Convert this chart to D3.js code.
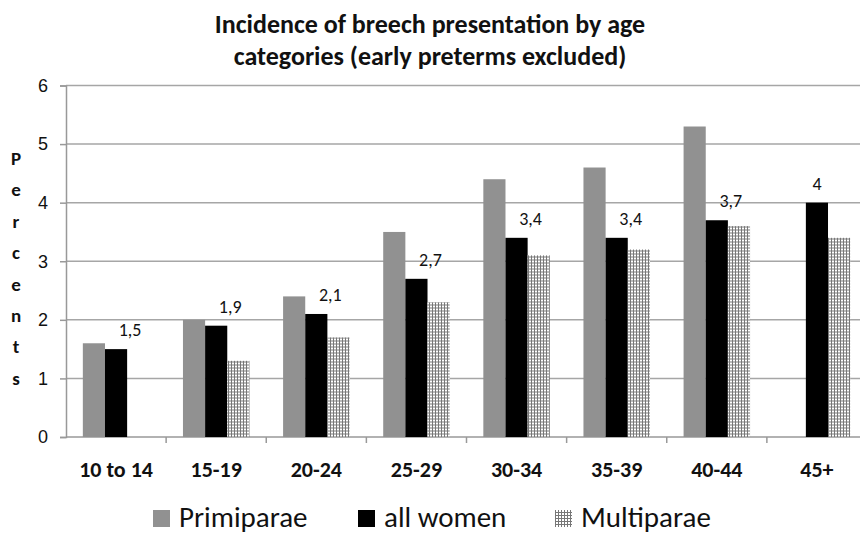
<!DOCTYPE html>
<html>
<head>
<meta charset="utf-8">
<script src="https://cdn.jsdelivr.net/npm/d3@7"></script>
<style>
  body { margin: 0; background: #fff; }
  svg { display: block; font-family: Carlito, Calibri, Lato, "Liberation Sans", sans-serif; }
</style>
</head>
<body>
<div id="chart"></div>
<script>
// data
var ageGroups = ['10 to 14', '15-19', '20-24', '25-29', '30-34', '35-39', '40-44', '45+'];
var primiparae = [1.6, 2.0, 2.4, 3.5, 4.4, 4.6, 5.3, null];
var allWomen = [1.5, 1.9, 2.1, 2.7, 3.4, 3.4, 3.7, 4.0];
var multiparae = [null, 1.3, 1.7, 2.3, 3.1, 3.2, 3.6, 3.4];
var seriesNames = ['Primiparae', 'all women', 'Multiparae'];
var yTicks = [0, 1, 2, 3, 4, 5, 6];
var titleLines = ['Incidence of breech presentation by age', 'categories (early preterms excluded)'];

var svgWidth = 860;
var svgHeight = 535;
var margin = { top: 85.5, right: -7, bottom: 98, left: 66 };
var chartWidth = svgWidth - margin.left - margin.right;
var chartHeight = svgHeight - margin.top - margin.bottom;

var svg = d3.select('#chart')
  .append('svg')
  .attr('width', svgWidth)
  .attr('height', svgHeight);

// fine grid fill for multiparae
var defs = svg.append('defs');
var pat = defs.append('pattern')
  .attr('id', 'grid')
  .attr('patternUnits', 'userSpaceOnUse')
  .attr('width', 3).attr('height', 3);
pat.append('rect').attr('width', 3).attr('height', 3).attr('fill', '#fff');
pat.append('rect').attr('width', 3).attr('height', 1).attr('fill', '#777');
pat.append('rect').attr('width', 1).attr('height', 3).attr('fill', '#777');

var colors = ['#919191', '#000', 'url(#grid)'];

var chartGroup = svg.append('g')
  .attr('transform', `translate(${margin.left}, ${margin.top})`);

var x0 = d3.scaleBand()
  .domain(ageGroups)
  .range([0, chartWidth]);

// three bars fill ~2/3 of each band
var x1 = d3.scaleBand()
  .domain(seriesNames)
  .range([0, x0.bandwidth()])
  .paddingOuter(0.76);

var y = d3.scaleLinear()
  .domain([0, 6])
  .range([chartHeight, 0]);

// gridlines
chartGroup.selectAll('.grid')
  .data(yTicks.filter(d => d > 0))
  .enter()
  .append('line')
  .attr('x1', 0)
  .attr('x2', chartWidth)
  .attr('y1', d => y(d))
  .attr('y2', d => y(d))
  .attr('stroke', '#a6a6a6')
  .attr('stroke-width', 1.5);

// y axis
var leftAxis = d3.axisLeft(y).tickValues(yTicks).tickFormat(d3.format('d')).tickSize(6).tickPadding(12);
var yAxis = chartGroup.append('g').call(leftAxis);
yAxis.select('.domain').attr('stroke', '#999').attr('stroke-width', 1.5);
yAxis.selectAll('.tick line').attr('stroke', '#999').attr('stroke-width', 1.5);
yAxis.selectAll('text').attr('font-size', 18).attr('fill', '#111').style('font-family', 'inherit');

// x axis: ticks at band boundaries
var bottom = chartGroup.append('g').attr('transform', `translate(0, ${chartHeight})`);
bottom.append('line')
  .attr('x1', 0).attr('x2', chartWidth)
  .attr('stroke', '#999').attr('stroke-width', 1.5);
bottom.selectAll('.xtick')
  .data(ageGroups)
  .enter()
  .append('line')
  .attr('x1', d => x0(d) + x0.bandwidth())
  .attr('x2', d => x0(d) + x0.bandwidth())
  .attr('y1', 0).attr('y2', 6)
  .attr('stroke', '#999').attr('stroke-width', 1.5);
bottom.selectAll('.xlabel')
  .data(ageGroups)
  .enter()
  .append('text')
  .attr('x', d => x0(d) + x0.bandwidth() / 2)
  .attr('y', 40)
  .attr('text-anchor', 'middle')
  .attr('font-size', 22)
  .attr('font-weight', 'bold')
  .attr('fill', '#111')
  .text(d => d);

// bars
var series = [primiparae, allWomen, multiparae];
series.forEach(function(vals, si) {
  var rows = ageGroups.map((g, i) => ({ g: g, v: vals[i] })).filter(d => d.v != null);
  chartGroup.selectAll('.bar' + si)
    .data(rows)
    .enter()
    .append('rect')
    .attr('x', d => x0(d.g) + x1(seriesNames[si]))
    .attr('y', d => y(d.v))
    .attr('width', x1.bandwidth())
    .attr('height', d => chartHeight - y(d.v))
    .attr('fill', colors[si]);
});

// value labels on "all women"
chartGroup.selectAll('.val')
  .data(ageGroups.map((g, i) => ({ g: g, v: allWomen[i], last: i === ageGroups.length - 1 })))
  .enter()
  .append('text')
  .attr('x', d => x0(d.g) + x1('all women') + x1.bandwidth() / 2 + (d.last ? 0 : 14))
  .attr('y', d => y(d.v) - 13)
  .attr('text-anchor', 'middle')
  .attr('font-size', 18)
  .attr('fill', '#111')
  .text(d => String(d.v % 1 === 0 ? d.v : d.v.toFixed(1)).replace('.', ','));

// title
svg.append('text')
  .attr('x', 430)
  .attr('y', 33)
  .attr('text-anchor', 'middle')
  .attr('font-size', 26)
  .attr('font-weight', 'bold')
  .attr('fill', '#111')
  .selectAll('tspan')
  .data(titleLines)
  .enter()
  .append('tspan')
  .attr('x', 430)
  .attr('dy', (d, i) => i === 0 ? 0 : 32)
  .text(d => d);

// vertical y label
svg.append('g')
  .selectAll('text')
  .data('Percents'.split(''))
  .enter()
  .append('text')
  .attr('x', 16)
  .attr('y', (d, i) => 165 + i * 31.4)
  .attr('text-anchor', 'middle')
  .attr('font-size', 19)
  .attr('font-weight', 'bold')
  .attr('fill', '#111')
  .text(d => d);

// legend
var legendX = [153, 358, 555];
var legend = svg.append('g').attr('transform', 'translate(0, 527)');
seriesNames.forEach(function(name, i) {
  legend.append('rect')
    .attr('x', legendX[i])
    .attr('y', -17)
    .attr('width', 17)
    .attr('height', 17)
    .attr('fill', colors[i]);
  legend.append('text')
    .attr('x', legendX[i] + 26)
    .attr('y', 0)
    .attr('font-size', 29)
    .attr('fill', '#111')
    .text(name);
});
</script>
</body>
</html>
